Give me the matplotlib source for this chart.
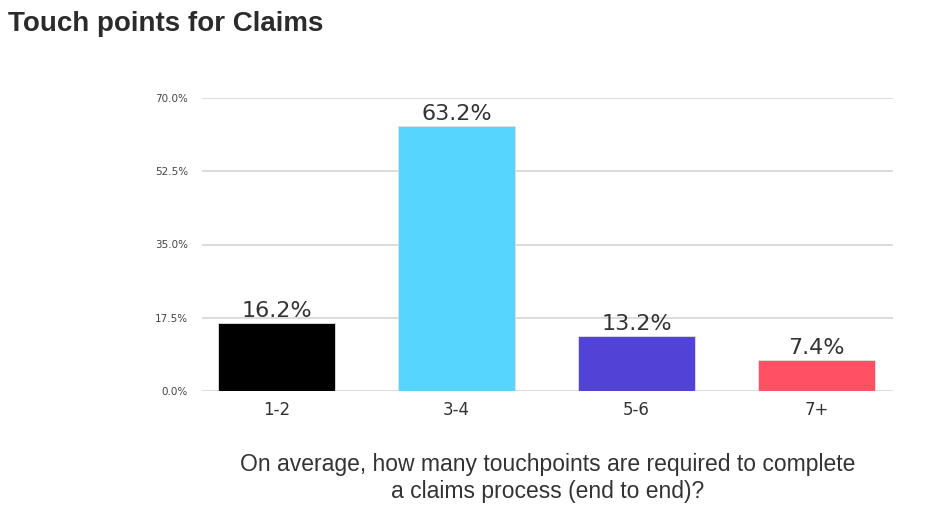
import matplotlib
matplotlib.use("Agg")
import matplotlib.pyplot as plt

categories = ['1-2', '3-4', '5-6', '7+']
values = [16.2, 63.2, 13.2, 7.4]
colors = ['#000000', '#54d6ff', '#5143d5', '#ff5064']
y_ticks = [0.0, 17.5, 35.0, 52.5, 70.0]


def plot_bar_chart():
    fig = plt.figure(figsize=(9.36, 5.24), dpi=100)
    ax = fig.add_axes([202 / 936, 1 - 391 / 524, 691 / 936, 293 / 524])

    x = list(range(len(categories)))
    bars = ax.bar(x, values, width=0.65, color=colors, edgecolor='#e0e0e0', linewidth=0.6, zorder=3)

    for bar, v in zip(bars, values):
        ax.annotate(f'{v:.1f}%', (bar.get_x() + bar.get_width() / 2, v),
                    xytext=(0, 1.5), textcoords='offset points', ha='center', va='bottom',
                    fontsize=16, color='#333333', family='DejaVu Sans')

    ax.set_xlim(-0.414, 3.425)
    ax.set_ylim(0, 70)
    ax.set_yticks(y_ticks)
    ax.set_yticklabels([f'{t:.1f}%' for t in y_ticks], fontsize=7.5, color='#444444')
    ax.set_xticks(x)
    ax.set_xticklabels(categories, fontsize=12, color='#333333')
    ax.tick_params(axis='both', length=0)
    ax.tick_params(axis='y', pad=10)
    ax.tick_params(axis='x', pad=7)

    ax.grid(axis='y', color='#d9d9d9', linewidth=1.3, zorder=0)
    for s in ax.spines.values():
        s.set_visible(False)

    fig.text(8 / 936, 1 - 24 / 524, 'Touch points for Claims', fontsize=20, fontweight='bold',
             color='#2b2b2b', va='center', ha='left', family='Liberation Sans')
    fig.text(548 / 936, 1 - 478 / 524,
             'On average, how many touchpoints are required to complete\na claims process (end to end)?',
             fontsize=16.5, color='#333333', ha='center', va='center', linespacing=1.2,
             family='Liberation Sans')

    fig.savefig('out.png', dpi=100)


def main():
    plot_bar_chart()


if __name__ == "__main__":
    main()
